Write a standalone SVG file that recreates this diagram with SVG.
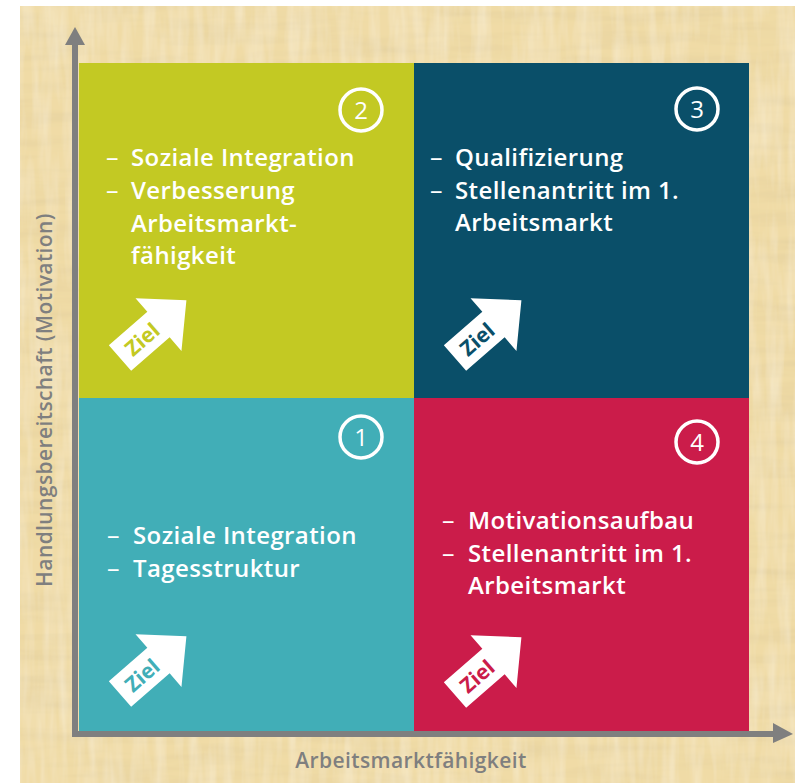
<svg xmlns="http://www.w3.org/2000/svg" width="795" height="783" viewBox="0 0 795 783">
  <defs>
    <filter id="paper" x="0" y="0" width="100%" height="100%">
      <feTurbulence type="fractalNoise" baseFrequency="0.012 0.09" numOctaves="3" seed="7" result="n1"/>
      <feColorMatrix in="n1" type="matrix" values="0 0 0 0 0.6  0 0 0 0 0.5  0 0 0 0 0.28  0 0 0 0.5 -0.2" result="c1"/>
      <feTurbulence type="fractalNoise" baseFrequency="0.09 0.012" numOctaves="3" seed="3" result="n2"/>
      <feColorMatrix in="n2" type="matrix" values="0 0 0 0 1  0 0 0 0 0.97  0 0 0 0 0.88  0 0 0 0.6 -0.22" result="c2"/>
      <feMerge>
        <feMergeNode in="SourceGraphic"/>
        <feMergeNode in="c1"/>
        <feMergeNode in="c2"/>
      </feMerge>
    </filter>
    <!-- "Ziel" arrow, pointing along +x, tail centred on the origin -->
    <path id="zielArrow" d="M0,-17 L51,-17 L51,-35 L88,0 L51,35 L51,17 L0,17 Z"/>
  </defs>
  <style>
    .ring { fill: none; stroke: #ffffff; stroke-width: 3.5; }
    .num { font-family: "Open Sans", "Noto Sans", sans-serif; font-size: 24px; fill: #ffffff; text-anchor: middle; }
    .body { font-family: "Open Sans", "Noto Sans", sans-serif; font-size: 24px; font-weight: 600; letter-spacing: 0.4px; fill: #ffffff; }
    .dash { font-weight: 400; font-size: 25px; }
    .ziel { font-family: "Open Sans", "Noto Sans", sans-serif; font-size: 21px; font-weight: 700; text-anchor: middle; }
    .axisLabel { font-family: "Open Sans", "Noto Sans", sans-serif; font-size: 21px; font-weight: 600; letter-spacing: 0.4px; fill: #7f7f7f; text-anchor: middle; }
    .axis { fill: #7f7f7f; }
  </style>

  <!-- parchment backdrop -->
  <rect x="0" y="0" width="795" height="783" fill="#ffffff"/>
  <rect x="20" y="6" width="775" height="777" fill="#f0dba6" filter="url(#paper)"/>

  <!-- quadrant 2 : top left -->
  <g id="q2">
    <rect x="79" y="63" width="335" height="335" fill="#c3c923"/>
    <circle class="ring" cx="361" cy="110" r="21"/>
    <text class="num" x="361" y="119">2</text>
    <text class="body">
      <tspan class="dash" x="106" y="166">–</tspan>
      <tspan x="131" y="166">Soziale Integration</tspan>
      <tspan class="dash" x="106" y="199">–</tspan>
      <tspan x="131" y="199">Verbesserung</tspan>
      <tspan x="131" y="232">Arbeitsmarkt-</tspan>
      <tspan x="131" y="264">fähigkeit</tspan>
    </text>
    <g transform="translate(120,358) rotate(-41)">
      <use href="#zielArrow" fill="#ffffff"/>
      <text class="ziel" x="29" y="8" fill="#c3c923">Ziel</text>
    </g>
  </g>

  <!-- quadrant 3 : top right -->
  <g id="q3">
    <rect x="414" y="63" width="335" height="335" fill="#0a4f69"/>
    <circle class="ring" cx="697" cy="109" r="21"/>
    <text class="num" x="697" y="118">3</text>
    <text class="body">
      <tspan class="dash" x="430" y="166">–</tspan>
      <tspan x="455" y="166">Qualifizierung</tspan>
      <tspan class="dash" x="430" y="199">–</tspan>
      <tspan x="455" y="199">Stellenantritt im 1.</tspan>
      <tspan x="455" y="231">Arbeitsmarkt</tspan>
    </text>
    <g transform="translate(455,358) rotate(-41)">
      <use href="#zielArrow" fill="#ffffff"/>
      <text class="ziel" x="29" y="8" fill="#0a4f69">Ziel</text>
    </g>
  </g>

  <!-- quadrant 1 : bottom left -->
  <g id="q1">
    <rect x="79" y="398" width="335" height="333" fill="#41aeb7"/>
    <circle class="ring" cx="361" cy="437" r="21"/>
    <text class="num" x="361" y="446">1</text>
    <text class="body">
      <tspan class="dash" x="107" y="544">–</tspan>
      <tspan x="133" y="544">Soziale Integration</tspan>
      <tspan class="dash" x="107" y="577">–</tspan>
      <tspan x="133" y="577">Tagesstruktur</tspan>
    </text>
    <g transform="translate(120,694) rotate(-41)">
      <use href="#zielArrow" fill="#ffffff"/>
      <text class="ziel" x="29" y="8" fill="#41aeb7">Ziel</text>
    </g>
  </g>

  <!-- quadrant 4 : bottom right -->
  <g id="q4">
    <rect x="414" y="398" width="335" height="333" fill="#cb1c4a"/>
    <circle class="ring" cx="697" cy="442" r="21"/>
    <text class="num" x="697" y="451">4</text>
    <text class="body">
      <tspan class="dash" x="442" y="529">–</tspan>
      <tspan x="468" y="529">Motivationsaufbau</tspan>
      <tspan class="dash" x="442" y="562">–</tspan>
      <tspan x="468" y="562">Stellenantritt im 1.</tspan>
      <tspan x="468" y="594">Arbeitsmarkt</tspan>
    </text>
    <g transform="translate(455,695) rotate(-41)">
      <use href="#zielArrow" fill="#ffffff"/>
      <text class="ziel" x="29" y="8" fill="#cb1c4a">Ziel</text>
    </g>
  </g>

  <!-- axes -->
  <g id="axes">
    <rect class="axis" x="72" y="44" width="6" height="693"/>
    <polygon class="axis" points="75,27 85,45 65,45"/>
    <rect class="axis" x="72" y="731" width="702" height="6"/>
    <polygon class="axis" points="793,734 773,723 773,743"/>
    <text class="axisLabel" transform="translate(52,400) rotate(-90)">Handlungsbereitschaft (Motivation)</text>
    <text class="axisLabel" x="411" y="768">Arbeitsmarktfähigkeit</text>
  </g>
</svg>
